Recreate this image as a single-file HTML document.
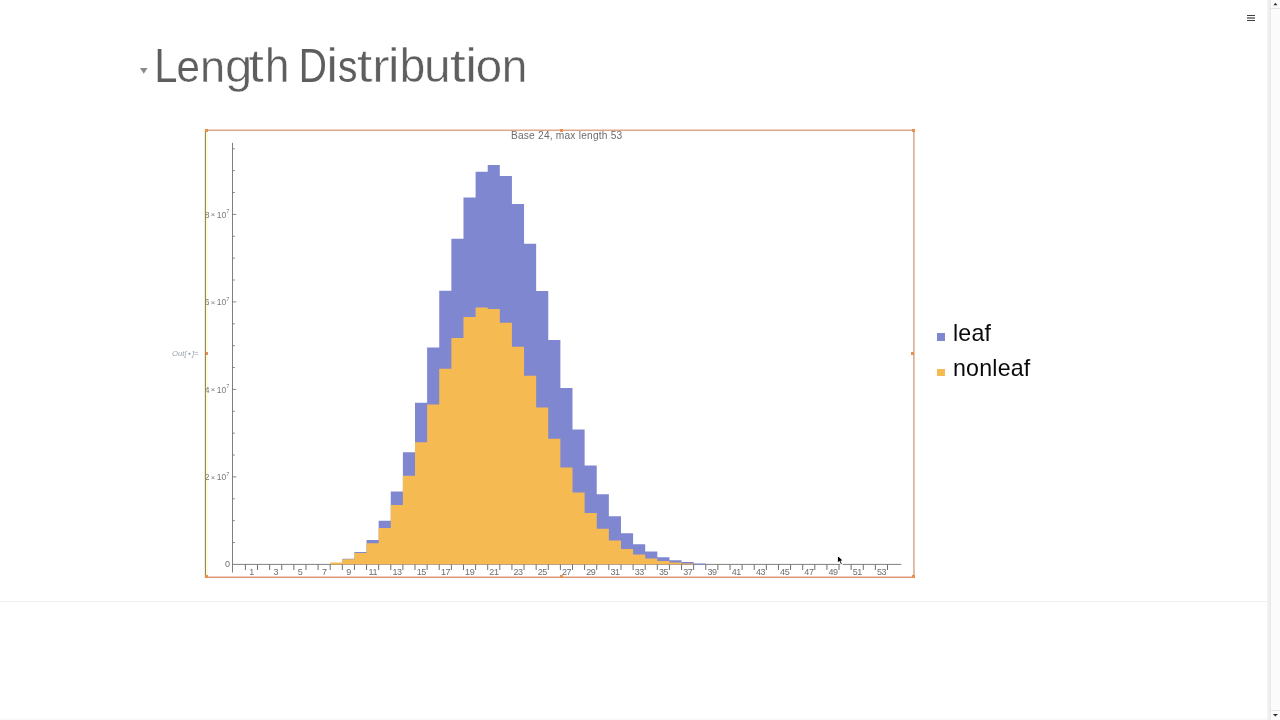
<!DOCTYPE html>
<html><head><meta charset="utf-8"><title>Length Distribution</title>
<style>
html,body{margin:0;padding:0;background:#fff;}
body{width:1280px;height:720px;overflow:hidden;position:relative;font-family:"Liberation Sans",sans-serif;}
.abs{position:absolute;}
.w{position:absolute;top:39.8px;font-size:45.6px;line-height:52px;color:#5e5e5e;white-space:nowrap;-webkit-text-stroke:1.1px #fff;}
.tg{font-family:"Liberation Sans",sans-serif;font-size:46px;fill:#5e5e5e;}
.tl{font-family:"Liberation Sans",sans-serif;font-size:9px;fill:#6e6e6e;letter-spacing:-0.45px}
.yl{font-family:"Liberation Sans",sans-serif;font-size:8.6px;fill:#7a7a7a;}
.ts{font-family:"Liberation Sans",sans-serif;font-size:5.6px;fill:#757575;}
.pl{font-family:"Liberation Sans",sans-serif;font-size:10.2px;fill:#6c6c6c;letter-spacing:0.2px}
.leg{position:absolute;left:953px;font-size:23.2px;letter-spacing:0.2px;line-height:26px;color:#0a0a0a;white-space:nowrap;}
.h{position:absolute;width:2.8px;height:2.8px;background:#e8904f;}
</style></head><body>
<div id="root" style="position:absolute;left:0;top:0;width:1280px;height:720px;will-change:transform">
<!-- hamburger -->
<div class="abs" style="left:1246.5px;top:14.8px;width:8.5px;height:1.2px;background:#3c3c3c"></div>
<div class="abs" style="left:1246.5px;top:17.4px;width:8.5px;height:1.3px;background:#8c8c8c"></div>
<div class="abs" style="left:1246.5px;top:20px;width:8.5px;height:1.2px;background:#3c3c3c"></div>
<!-- scrollbar -->
<div class="abs" style="left:1267px;top:0;width:4px;height:720px;background:linear-gradient(90deg,#f6f6f6,#ececec 60%,#e9e9e9)"></div>
<div class="abs" style="left:1271px;top:0;width:9px;height:720px;background:#fbfbfb"></div>
<div class="abs" style="left:1271px;top:8.2px;width:9px;height:1.2px;background:#e6e6e6"></div>
<div class="abs" style="left:1271px;top:710px;width:9px;height:1.2px;background:#e6e6e6"></div>
<svg class="abs" style="left:1271px;top:0" width="9" height="720"><path d="M2.3 5.2 L4.4 2.7 L6.5 5.2 Z" fill="#333"/><path d="M1.8 714 L7 714 L4.4 716.6 Z" fill="#333"/></svg>
<!-- bottom separator -->
<div class="abs" style="left:0;top:600.8px;width:1267px;height:1px;background:#f1f1f1"></div>
<div class="abs" style="left:0;top:717.6px;width:1267px;height:2.4px;background:#fafafa"></div>
<!-- title -->
<svg class="abs" style="left:139px;top:66px" width="10" height="8"><path d="M1 1.9 L8.5 1.9 L4.75 7.7 Z" fill="#8a8a8a"/></svg>
<svg class="abs" style="left:0;top:0" width="700" height="120" viewBox="0 0 700 120">
<text transform="matrix(0.9073 0 0 1.0340 154.25 81.68)" class="tg" stroke="#fff" stroke-width="0.166">L</text>
<text transform="matrix(0.9163 0 0 0.9850 176.62 81.69)" class="tg" stroke="#fff" stroke-width="0.193">e</text>
<text transform="matrix(0.9804 0 0 0.9850 199.93 81.78)" class="tg" stroke="#fff" stroke-width="0.359">n</text>
<text transform="matrix(1.0693 0 0 1.0000 224.88 81.90)" class="tg" stroke="#fff" stroke-width="0.563">g</text>
<text transform="matrix(1.2386 0 0 1.0000 248.14 82.00)" class="tg" stroke="#fff" stroke-width="0.646">t</text>
<text transform="matrix(0.9491 0 0 1.0350 264.94 81.73)" class="tg" stroke="#fff" stroke-width="0.280">h</text>
<text transform="matrix(0.8472 0 0 1.0340 298.71 81.59)" class="tg" stroke="#5e5e5e" stroke-width="0.021">D</text>
<text transform="matrix(1.1615 0 0 1.0350 326.17 81.86)" class="tg" stroke="#fff" stroke-width="0.448">i</text>
<text transform="matrix(0.8409 0 0 0.9850 338.04 81.58)" class="tg" stroke="#5e5e5e" stroke-width="0.041">s</text>
<text transform="matrix(1.2386 0 0 1.0000 356.64 82.00)" class="tg" stroke="#fff" stroke-width="0.646">t</text>
<text transform="matrix(1.1569 0 0 0.9850 372.09 81.98)" class="tg" stroke="#fff" stroke-width="0.653">r</text>
<text transform="matrix(1.1615 0 0 1.0350 387.77 81.86)" class="tg" stroke="#fff" stroke-width="0.448">i</text>
<text transform="matrix(0.9961 0 0 1.0350 399.65 81.80)" class="tg" stroke="#fff" stroke-width="0.400">b</text>
<text transform="matrix(1.0374 0 0 0.9850 423.90 81.85)" class="tg" stroke="#fff" stroke-width="0.491">u</text>
<text transform="matrix(1.2640 0 0 1.0000 449.72 82.00)" class="tg" stroke="#fff" stroke-width="0.633">t</text>
<text transform="matrix(1.1615 0 0 1.0350 465.17 81.86)" class="tg" stroke="#fff" stroke-width="0.448">i</text>
<text transform="matrix(1.0319 0 0 0.9850 475.86 81.85)" class="tg" stroke="#fff" stroke-width="0.486">o</text>
<text transform="matrix(0.9984 0 0 0.9850 501.75 81.80)" class="tg" stroke="#fff" stroke-width="0.402">n</text>
</svg>
<!-- Out label -->
<div class="abs" style="left:172px;top:347.8px;font-size:7.6px;line-height:10px;font-style:italic;color:#99a1aa;white-space:nowrap;letter-spacing:0.1px">Out[<span style="font-size:5px;vertical-align:0.8px;padding:0 1px">●</span>]=</div>
<!-- chart -->
<svg class="abs" style="left:0;top:0" width="1280" height="720" viewBox="0 0 1280 720">
<defs><clipPath id="cp"><rect x="205" y="130" width="709.5" height="448"/></clipPath></defs>
<rect x="206.2" y="131" width="1.6" height="446" fill="#fffbd6"/>
<g clip-path="url(#cp)">
<line x1="232.5" y1="142.8" x2="232.5" y2="572.5" stroke="#707070" stroke-width="0.9"/>
<line x1="232.5" y1="564.4" x2="901.3" y2="564.4" stroke="#707070" stroke-width="0.9"/>
<path d="M342.32 564.50 L342.32 558.70 L354.44 558.70 L354.44 552.10 L366.55 552.10 L366.55 540.00 L378.67 540.00 L378.67 520.80 L390.78 520.80 L390.78 491.40 L402.89 491.40 L402.89 452.25 L415.01 452.25 L415.01 402.75 L427.12 402.75 L427.12 347.50 L439.24 347.50 L439.24 290.75 L451.36 290.75 L451.36 238.75 L463.47 238.75 L463.47 197.50 L475.59 197.50 L475.59 171.75 L487.70 171.75 L487.70 165.00 L499.81 165.00 L499.81 176.00 L511.93 176.00 L511.93 204.00 L524.04 204.00 L524.04 243.75 L536.16 243.75 L536.16 290.90 L548.27 290.90 L548.27 340.00 L560.39 340.00 L560.39 388.00 L572.50 388.00 L572.50 429.50 L584.62 429.50 L584.62 465.50 L596.74 465.50 L596.74 494.25 L608.85 494.25 L608.85 516.25 L620.97 516.25 L620.97 533.20 L633.08 533.20 L633.08 544.30 L645.20 544.30 L645.20 551.50 L657.31 551.50 L657.31 557.25 L669.43 557.25 L669.43 560.25 L681.54 560.25 L681.54 562.10 L693.65 562.10 L693.65 563.40 L705.77 563.40 L705.77 564.50 Z" fill="#8087d1"/>
<path d="M330.21 564.50 L330.21 562.40 L342.32 562.40 L342.32 559.20 L354.44 559.20 L354.44 553.10 L366.55 553.10 L366.55 543.20 L378.67 543.20 L378.67 528.00 L390.78 528.00 L390.78 505.00 L402.89 505.00 L402.89 475.75 L415.01 475.75 L415.01 442.25 L427.12 442.25 L427.12 404.40 L439.24 404.40 L439.24 368.75 L451.36 368.75 L451.36 338.00 L463.47 338.00 L463.47 317.00 L475.59 317.00 L475.59 307.50 L487.70 307.50 L487.70 309.10 L499.81 309.10 L499.81 322.75 L511.93 322.75 L511.93 346.75 L524.04 346.75 L524.04 375.75 L536.16 375.75 L536.16 407.50 L548.27 407.50 L548.27 438.75 L560.39 438.75 L560.39 467.50 L572.50 467.50 L572.50 492.50 L584.62 492.50 L584.62 513.00 L596.74 513.00 L596.74 528.75 L608.85 528.75 L608.85 540.60 L620.97 540.60 L620.97 549.10 L633.08 549.10 L633.08 554.40 L645.20 554.40 L645.20 558.40 L657.31 558.40 L657.31 561.00 L669.43 561.00 L669.43 562.50 L681.54 562.50 L681.54 563.40 L693.65 563.40 L693.65 564.50 Z" fill="#f5ba52"/>
<line x1="245.40" y1="564.4" x2="245.40" y2="570.0" stroke="#707070" stroke-width="1"/>
<line x1="257.51" y1="564.4" x2="257.51" y2="570.0" stroke="#707070" stroke-width="1"/>
<line x1="269.63" y1="564.4" x2="269.63" y2="570.0" stroke="#707070" stroke-width="1"/>
<line x1="281.75" y1="564.4" x2="281.75" y2="570.0" stroke="#707070" stroke-width="1"/>
<line x1="293.86" y1="564.4" x2="293.86" y2="570.0" stroke="#707070" stroke-width="1"/>
<line x1="305.98" y1="564.4" x2="305.98" y2="570.0" stroke="#707070" stroke-width="1"/>
<line x1="318.09" y1="564.4" x2="318.09" y2="570.0" stroke="#707070" stroke-width="1"/>
<line x1="330.21" y1="564.4" x2="330.21" y2="570.0" stroke="#707070" stroke-width="1"/>
<line x1="342.32" y1="564.4" x2="342.32" y2="570.0" stroke="#707070" stroke-width="1"/>
<line x1="354.44" y1="564.4" x2="354.44" y2="570.0" stroke="#707070" stroke-width="1"/>
<line x1="366.55" y1="564.4" x2="366.55" y2="570.0" stroke="#707070" stroke-width="1"/>
<line x1="378.67" y1="564.4" x2="378.67" y2="570.0" stroke="#707070" stroke-width="1"/>
<line x1="390.78" y1="564.4" x2="390.78" y2="570.0" stroke="#707070" stroke-width="1"/>
<line x1="402.89" y1="564.4" x2="402.89" y2="570.0" stroke="#707070" stroke-width="1"/>
<line x1="415.01" y1="564.4" x2="415.01" y2="570.0" stroke="#707070" stroke-width="1"/>
<line x1="427.12" y1="564.4" x2="427.12" y2="570.0" stroke="#707070" stroke-width="1"/>
<line x1="439.24" y1="564.4" x2="439.24" y2="570.0" stroke="#707070" stroke-width="1"/>
<line x1="451.36" y1="564.4" x2="451.36" y2="570.0" stroke="#707070" stroke-width="1"/>
<line x1="463.47" y1="564.4" x2="463.47" y2="570.0" stroke="#707070" stroke-width="1"/>
<line x1="475.59" y1="564.4" x2="475.59" y2="570.0" stroke="#707070" stroke-width="1"/>
<line x1="487.70" y1="564.4" x2="487.70" y2="570.0" stroke="#707070" stroke-width="1"/>
<line x1="499.81" y1="564.4" x2="499.81" y2="570.0" stroke="#707070" stroke-width="1"/>
<line x1="511.93" y1="564.4" x2="511.93" y2="570.0" stroke="#707070" stroke-width="1"/>
<line x1="524.04" y1="564.4" x2="524.04" y2="570.0" stroke="#707070" stroke-width="1"/>
<line x1="536.16" y1="564.4" x2="536.16" y2="570.0" stroke="#707070" stroke-width="1"/>
<line x1="548.27" y1="564.4" x2="548.27" y2="570.0" stroke="#707070" stroke-width="1"/>
<line x1="560.39" y1="564.4" x2="560.39" y2="570.0" stroke="#707070" stroke-width="1"/>
<line x1="572.50" y1="564.4" x2="572.50" y2="570.0" stroke="#707070" stroke-width="1"/>
<line x1="584.62" y1="564.4" x2="584.62" y2="570.0" stroke="#707070" stroke-width="1"/>
<line x1="596.74" y1="564.4" x2="596.74" y2="570.0" stroke="#707070" stroke-width="1"/>
<line x1="608.85" y1="564.4" x2="608.85" y2="570.0" stroke="#707070" stroke-width="1"/>
<line x1="620.97" y1="564.4" x2="620.97" y2="570.0" stroke="#707070" stroke-width="1"/>
<line x1="633.08" y1="564.4" x2="633.08" y2="570.0" stroke="#707070" stroke-width="1"/>
<line x1="645.20" y1="564.4" x2="645.20" y2="570.0" stroke="#707070" stroke-width="1"/>
<line x1="657.31" y1="564.4" x2="657.31" y2="570.0" stroke="#707070" stroke-width="1"/>
<line x1="669.43" y1="564.4" x2="669.43" y2="570.0" stroke="#707070" stroke-width="1"/>
<line x1="681.54" y1="564.4" x2="681.54" y2="570.0" stroke="#707070" stroke-width="1"/>
<line x1="693.65" y1="564.4" x2="693.65" y2="570.0" stroke="#707070" stroke-width="1"/>
<line x1="705.77" y1="564.4" x2="705.77" y2="570.0" stroke="#707070" stroke-width="1"/>
<line x1="717.88" y1="564.4" x2="717.88" y2="570.0" stroke="#707070" stroke-width="1"/>
<line x1="730.00" y1="564.4" x2="730.00" y2="570.0" stroke="#707070" stroke-width="1"/>
<line x1="742.12" y1="564.4" x2="742.12" y2="570.0" stroke="#707070" stroke-width="1"/>
<line x1="754.23" y1="564.4" x2="754.23" y2="570.0" stroke="#707070" stroke-width="1"/>
<line x1="766.35" y1="564.4" x2="766.35" y2="570.0" stroke="#707070" stroke-width="1"/>
<line x1="778.46" y1="564.4" x2="778.46" y2="570.0" stroke="#707070" stroke-width="1"/>
<line x1="790.57" y1="564.4" x2="790.57" y2="570.0" stroke="#707070" stroke-width="1"/>
<line x1="802.69" y1="564.4" x2="802.69" y2="570.0" stroke="#707070" stroke-width="1"/>
<line x1="814.80" y1="564.4" x2="814.80" y2="570.0" stroke="#707070" stroke-width="1"/>
<line x1="826.92" y1="564.4" x2="826.92" y2="570.0" stroke="#707070" stroke-width="1"/>
<line x1="839.03" y1="564.4" x2="839.03" y2="570.0" stroke="#707070" stroke-width="1"/>
<line x1="851.15" y1="564.4" x2="851.15" y2="570.0" stroke="#707070" stroke-width="1"/>
<line x1="863.26" y1="564.4" x2="863.26" y2="570.0" stroke="#707070" stroke-width="1"/>
<line x1="875.38" y1="564.4" x2="875.38" y2="570.0" stroke="#707070" stroke-width="1"/>
<line x1="887.50" y1="564.4" x2="887.50" y2="570.0" stroke="#707070" stroke-width="1"/>
<text x="251.61" y="575.1" text-anchor="middle" class="tl">1</text>
<text x="275.84" y="575.1" text-anchor="middle" class="tl">3</text>
<text x="300.07" y="575.1" text-anchor="middle" class="tl">5</text>
<text x="324.30" y="575.1" text-anchor="middle" class="tl">7</text>
<text x="348.53" y="575.1" text-anchor="middle" class="tl">9</text>
<text x="372.76" y="575.1" text-anchor="middle" class="tl">11</text>
<text x="396.99" y="575.1" text-anchor="middle" class="tl">13</text>
<text x="421.22" y="575.1" text-anchor="middle" class="tl">15</text>
<text x="445.45" y="575.1" text-anchor="middle" class="tl">17</text>
<text x="469.68" y="575.1" text-anchor="middle" class="tl">19</text>
<text x="493.91" y="575.1" text-anchor="middle" class="tl">21</text>
<text x="518.14" y="575.1" text-anchor="middle" class="tl">23</text>
<text x="542.37" y="575.1" text-anchor="middle" class="tl">25</text>
<text x="566.60" y="575.1" text-anchor="middle" class="tl">27</text>
<text x="590.83" y="575.1" text-anchor="middle" class="tl">29</text>
<text x="615.06" y="575.1" text-anchor="middle" class="tl">31</text>
<text x="639.29" y="575.1" text-anchor="middle" class="tl">33</text>
<text x="663.52" y="575.1" text-anchor="middle" class="tl">35</text>
<text x="687.75" y="575.1" text-anchor="middle" class="tl">37</text>
<text x="711.98" y="575.1" text-anchor="middle" class="tl">39</text>
<text x="736.21" y="575.1" text-anchor="middle" class="tl">41</text>
<text x="760.44" y="575.1" text-anchor="middle" class="tl">43</text>
<text x="784.67" y="575.1" text-anchor="middle" class="tl">45</text>
<text x="808.90" y="575.1" text-anchor="middle" class="tl">47</text>
<text x="833.13" y="575.1" text-anchor="middle" class="tl">49</text>
<text x="857.36" y="575.1" text-anchor="middle" class="tl">51</text>
<text x="881.59" y="575.1" text-anchor="middle" class="tl">53</text>
<line x1="232.5" y1="542.52" x2="234.8" y2="542.52" stroke="#707070" stroke-width="0.85"/>
<line x1="232.5" y1="520.65" x2="234.8" y2="520.65" stroke="#707070" stroke-width="0.85"/>
<line x1="232.5" y1="498.77" x2="234.8" y2="498.77" stroke="#707070" stroke-width="0.85"/>
<line x1="232.5" y1="476.90" x2="236.3" y2="476.90" stroke="#707070" stroke-width="0.85"/>
<line x1="232.5" y1="455.02" x2="234.8" y2="455.02" stroke="#707070" stroke-width="0.85"/>
<line x1="232.5" y1="433.15" x2="234.8" y2="433.15" stroke="#707070" stroke-width="0.85"/>
<line x1="232.5" y1="411.27" x2="234.8" y2="411.27" stroke="#707070" stroke-width="0.85"/>
<line x1="232.5" y1="389.40" x2="236.3" y2="389.40" stroke="#707070" stroke-width="0.85"/>
<line x1="232.5" y1="367.52" x2="234.8" y2="367.52" stroke="#707070" stroke-width="0.85"/>
<line x1="232.5" y1="345.65" x2="234.8" y2="345.65" stroke="#707070" stroke-width="0.85"/>
<line x1="232.5" y1="323.77" x2="234.8" y2="323.77" stroke="#707070" stroke-width="0.85"/>
<line x1="232.5" y1="301.90" x2="236.3" y2="301.90" stroke="#707070" stroke-width="0.85"/>
<line x1="232.5" y1="280.02" x2="234.8" y2="280.02" stroke="#707070" stroke-width="0.85"/>
<line x1="232.5" y1="258.15" x2="234.8" y2="258.15" stroke="#707070" stroke-width="0.85"/>
<line x1="232.5" y1="236.27" x2="234.8" y2="236.27" stroke="#707070" stroke-width="0.85"/>
<line x1="232.5" y1="214.40" x2="236.3" y2="214.40" stroke="#707070" stroke-width="0.85"/>
<line x1="232.5" y1="192.52" x2="234.8" y2="192.52" stroke="#707070" stroke-width="0.85"/>
<line x1="232.5" y1="170.65" x2="234.8" y2="170.65" stroke="#707070" stroke-width="0.85"/>
<line x1="232.5" y1="148.77" x2="234.8" y2="148.77" stroke="#707070" stroke-width="0.85"/>
<text x="229.6" y="567.1" text-anchor="end" class="tl">0</text>
<text x="209.5" y="480.10" text-anchor="end" class="yl">2</text>
<text x="212.9" y="479.60" text-anchor="middle" class="yl" style="font-size:7.6px">×</text>
<text x="226.2" y="480.10" text-anchor="end" class="yl">10</text>
<text x="226.2" y="475.50" class="ts">7</text>
<text x="209.5" y="392.60" text-anchor="end" class="yl">4</text>
<text x="212.9" y="392.10" text-anchor="middle" class="yl" style="font-size:7.6px">×</text>
<text x="226.2" y="392.60" text-anchor="end" class="yl">10</text>
<text x="226.2" y="388.00" class="ts">7</text>
<text x="209.5" y="305.10" text-anchor="end" class="yl">6</text>
<text x="212.9" y="304.60" text-anchor="middle" class="yl" style="font-size:7.6px">×</text>
<text x="226.2" y="305.10" text-anchor="end" class="yl">10</text>
<text x="226.2" y="300.50" class="ts">7</text>
<text x="209.5" y="217.60" text-anchor="end" class="yl">8</text>
<text x="212.9" y="217.10" text-anchor="middle" class="yl" style="font-size:7.6px">×</text>
<text x="226.2" y="217.60" text-anchor="end" class="yl">10</text>
<text x="226.2" y="213.00" class="ts">7</text>
<text x="566.7" y="139" text-anchor="middle" class="pl">Base 24, max length 53</text>
</g>
<!-- selection frame -->
<line x1="205.4" y1="130" x2="205.4" y2="577.5" stroke="#8f8746" stroke-width="1.1"/>
<line x1="205" y1="130.2" x2="914.6" y2="130.2" stroke="#dea88e" stroke-width="1.5"/>
<line x1="205" y1="577.2" x2="914.6" y2="577.2" stroke="#e29a76" stroke-width="1.5"/>
<line x1="913.9" y1="130" x2="913.9" y2="577.5" stroke="#d3aa8c" stroke-width="1.5"/>
</svg>
<!-- handles -->
<div class="h" style="left:205px;top:129px"></div>
<div class="h" style="left:911.8px;top:129px"></div>
<div class="h" style="left:205px;top:574.8px"></div>
<div class="h" style="left:911.8px;top:574.8px"></div>
<div class="h" style="left:559.8px;top:129px;height:2.6px"></div>
<div class="h" style="left:559.8px;top:574.8px"></div>
<div class="h" style="left:205.6px;top:352px"></div>
<div class="h" style="left:911.3px;top:351.8px"></div>
<!-- legend -->
<div class="abs" style="left:937px;top:333.4px;width:8px;height:7.8px;background:#8087d1"></div>
<div class="abs" style="left:937px;top:368.7px;width:8px;height:7.8px;background:#f5ba52"></div>
<div class="leg" id="l1" style="top:320.3px">leaf</div>
<div class="leg" id="l2" style="top:355.3px">nonleaf</div>
<!-- cursor -->
<svg class="abs" style="left:833.9px;top:551.6px" width="13.4" height="15.6" viewBox="0 0 12 14"><path d="M3 2.6 L3 10.2 L4.8 8.6 L6.1 11.6 L7.6 11 L6.3 8.1 L8.6 8 Z" fill="#000" stroke="#fff" stroke-width="0.9" stroke-linejoin="round"/></svg>
</div>
</body></html>
